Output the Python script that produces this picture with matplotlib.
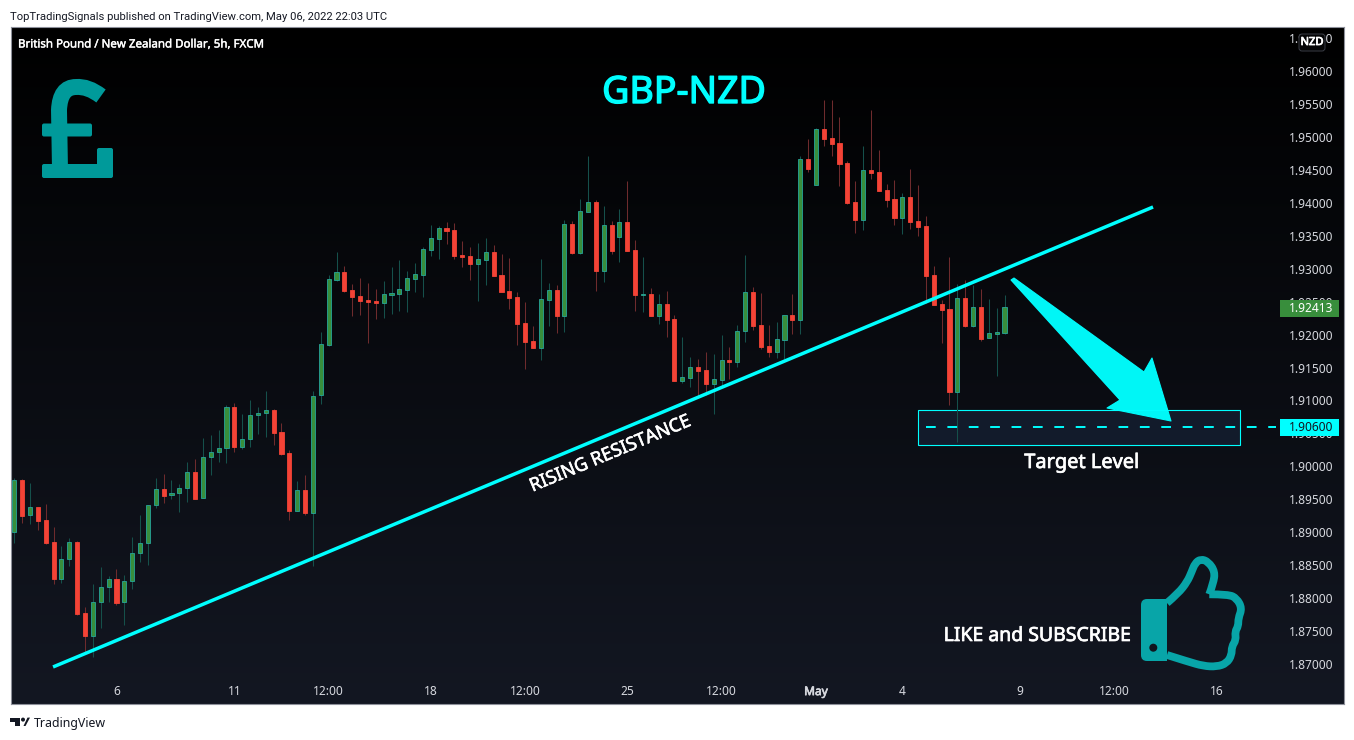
"""GBP/NZD 5h candlestick chart with trendline and target annotations."""

import matplotlib

matplotlib.use("Agg")
import matplotlib.patheffects as pe
import matplotlib.pyplot as plt
import numpy as np
from matplotlib.patches import Circle, FancyBboxPatch, PathPatch, Polygon, Rectangle
from matplotlib.path import Path
from matplotlib.transforms import Affine2D

bar_open = [
    1.88998, 1.89787, 1.89256, 1.89377, 1.89180, 1.88846, 1.88294, 1.88588, 1.88846, 1.87768,
    1.87429, 1.87935, 1.88163, 1.88284, 1.87935, 1.88254, 1.88679, 1.88831, 1.89407, 1.89650,
    1.89559, 1.89590, 1.89665, 1.89908, 1.89514, 1.90136, 1.90212, 1.90273, 1.90895, 1.90298,
    1.90409, 1.90774, 1.90804, 1.90850, 1.90516, 1.90197, 1.89326, 1.89635, 1.89296, 1.91077,
    1.91846, 1.92833, 1.92944, 1.92671, 1.92580, 1.92519, 1.92504, 1.92484, 1.92605, 1.92620,
    1.92681, 1.92848, 1.92909, 1.93288, 1.93455, 1.93612, 1.93582, 1.93202, 1.93187, 1.93076,
    1.93136, 1.93248, 1.92899, 1.92656, 1.92565, 1.92170, 1.91897, 1.91801, 1.92529, 1.92671,
    1.92286, 1.93673, 1.93243, 1.93865, 1.94007, 1.92969, 1.93658, 1.93486, 1.93703, 1.93278,
    1.92600, 1.92610, 1.92286, 1.92458, 1.92231, 1.91300, 1.91345, 1.91502, 1.91457, 1.91254,
    1.91315, 1.91608, 1.91588, 1.92059, 1.92641, 1.92140, 1.91821, 1.91740, 1.91922, 1.92291,
    1.92226, 1.94660, 1.94275, 1.95115, 1.94978, 1.94902, 1.94599, 1.94007, 1.93744, 1.94493,
    1.94462, 1.94189, 1.94052, 1.93774, 1.94083, 1.93718, 1.93642, 1.92899, 1.92458, 1.92382,
    1.91133, 1.92549, 1.92135, 1.92413, 1.91942, 1.92013, 1.92028,
]
bar_close = [
    1.89787, 1.89251, 1.89377, 1.89175, 1.88841, 1.88294, 1.88588, 1.88846, 1.87763, 1.87429,
    1.87935, 1.88163, 1.88284, 1.87930, 1.88254, 1.88679, 1.88831, 1.89407, 1.89650, 1.89554,
    1.89590, 1.89665, 1.89908, 1.89509, 1.90136, 1.90212, 1.90273, 1.90895, 1.90298, 1.90409,
    1.90774, 1.90804, 1.90850, 1.90511, 1.90192, 1.89326, 1.89635, 1.89296, 1.91072, 1.91851,
    1.92838, 1.92944, 1.92666, 1.92575, 1.92514, 1.92499, 1.92484, 1.92610, 1.92625, 1.92686,
    1.92853, 1.92914, 1.93293, 1.93460, 1.93612, 1.93577, 1.93197, 1.93182, 1.93076, 1.93142,
    1.93248, 1.92894, 1.92651, 1.92560, 1.92165, 1.91892, 1.91801, 1.92534, 1.92671, 1.92286,
    1.93673, 1.93243, 1.93870, 1.94007, 1.92969, 1.93658, 1.93273, 1.93703, 1.93273, 1.92605,
    1.92615, 1.92286, 1.92458, 1.92226, 1.91295, 1.91350, 1.91502, 1.91452, 1.91254, 1.91320,
    1.91608, 1.91588, 1.92059, 1.92641, 1.92135, 1.91816, 1.91740, 1.91927, 1.92291, 1.92226,
    1.94660, 1.94518, 1.95115, 1.94973, 1.94897, 1.94594, 1.93992, 1.93744, 1.94493, 1.94457,
    1.94184, 1.94047, 1.93774, 1.94083, 1.93713, 1.93637, 1.92894, 1.92453, 1.92377, 1.91133,
    1.92549, 1.92135, 1.92413, 1.91937, 1.92018, 1.92033, 1.92413,
]
bar_high = [
    1.89817, 1.89802, 1.89746, 1.89377, 1.89423, 1.89073, 1.88785, 1.88906, 1.88861, 1.87859,
    1.88208, 1.88466, 1.88330, 1.88436, 1.88345, 1.88922, 1.89256, 1.89407, 1.89817, 1.89878,
    1.89787, 1.89726, 1.90060, 1.90106, 1.90424, 1.90470, 1.90546, 1.90925, 1.90956, 1.90789,
    1.91006, 1.90895, 1.91143, 1.90865, 1.90652, 1.90242, 1.89772, 1.89863, 1.91138, 1.92033,
    1.92904, 1.93253, 1.93040, 1.92767, 1.92853, 1.92782, 1.92691, 1.92808, 1.93020, 1.93131,
    1.92959, 1.93081, 1.93324, 1.93658, 1.93642, 1.93703, 1.93688, 1.93415, 1.93324, 1.93384,
    1.93460, 1.93354, 1.93217, 1.93157, 1.92641, 1.92489, 1.92124, 1.93142, 1.92777, 1.92747,
    1.93734, 1.93718, 1.94052, 1.94710, 1.94037, 1.93946, 1.93718, 1.93901, 1.94330, 1.93430,
    1.93172, 1.92701, 1.92610, 1.92656, 1.92291, 1.91957, 1.91654, 1.91624, 1.91730, 1.91699,
    1.91988, 1.91806, 1.92140, 1.93202, 1.92716, 1.92625, 1.92140, 1.92185, 1.92291, 1.92610,
    1.94705, 1.94963, 1.95130, 1.95560, 1.95560, 1.95297, 1.94629, 1.94326, 1.94857, 1.95403,
    1.94796, 1.94280, 1.94341, 1.94143, 1.94508, 1.94265, 1.93794, 1.93035, 1.92519, 1.93172,
    1.92762, 1.92823, 1.92747, 1.92686, 1.92534, 1.92398, 1.92595,
]
bar_low = [
    1.88841, 1.89144, 1.89129, 1.89038, 1.88826, 1.88218, 1.88234, 1.88492, 1.87748, 1.87186,
    1.87110, 1.87550, 1.87945, 1.87900, 1.87596, 1.88142, 1.88552, 1.88507, 1.89372, 1.89448,
    1.89509, 1.89311, 1.89463, 1.89509, 1.89514, 1.89868, 1.90070, 1.90055, 1.90222, 1.90268,
    1.90298, 1.90495, 1.90450, 1.90328, 1.90177, 1.89190, 1.89326, 1.89266, 1.88492, 1.90945,
    1.91831, 1.92818, 1.92646, 1.92281, 1.92296, 1.91871, 1.92236, 1.92251, 1.92312, 1.92357,
    1.92342, 1.92646, 1.92570, 1.93192, 1.93147, 1.93374, 1.93152, 1.93025, 1.92828, 1.92509,
    1.92752, 1.92894, 1.92651, 1.92388, 1.91841, 1.91477, 1.91801, 1.91613, 1.92130, 1.92023,
    1.92038, 1.93222, 1.93228, 1.93865, 1.92661, 1.92797, 1.93228, 1.93101, 1.93273, 1.92362,
    1.92342, 1.92286, 1.92165, 1.91968, 1.91295, 1.91269, 1.91209, 1.91062, 1.91077, 1.90799,
    1.91209, 1.91330, 1.91512, 1.91892, 1.92074, 1.91785, 1.91664, 1.91649, 1.91624, 1.92013,
    1.92013, 1.94472, 1.94275, 1.94867, 1.94715, 1.94255, 1.93981, 1.93546, 1.93592, 1.94366,
    1.94184, 1.93941, 1.93668, 1.93531, 1.93607, 1.93501, 1.92474, 1.92453, 1.91877, 1.90935,
    1.90374, 1.92119, 1.92119, 1.91907, 1.91942, 1.91376, 1.92013,
]

price_ticks = [1.87, 1.875, 1.88, 1.885, 1.89, 1.895, 1.90, 1.905, 1.91, 1.915, 1.92,
               1.925, 1.93, 1.935, 1.94, 1.945, 1.95, 1.955, 1.96, 1.965]
date_ticks = [13, 28, 40, 53, 65, 78, 90, 102, 113, 128, 140, 153]
date_labels = ["6", "11", "12:00", "18", "12:00", "25", "12:00", "May", "4", "9", "12:00", "16"]

trend_x = [4.93, 144.9]
trend_y = [1.86955, 1.93936]
target_price = 1.906
target_zone_x = [115.0, 156.0]
target_zone_y = [1.90324, 1.90855]
target_line_x = [116.0, 160.5]
last_price = 1.92413

UP = "#388e3c"
UP_EDGE = "#26a69a"
UP_WICK = "#15504b"
DOWN = "#f44336"
DOWN_WICK = "#6e2b2d"
CYAN = "#00ffff"
AXIS_TEXT = "#d6d8de"
FONT = "Noto Sans"

W, H = 1354, 740
X_RANGE = (-0.42, 169.2)
Y_RANGE = (1.86393, 1.96668)


def heavy(width, colour="#ffffff"):
    # the installed font has one weight only, so thicken it with a stroke
    return [pe.withStroke(linewidth=width, foreground=colour)]


def smooth_path(points):
    # quadratic spline through the midpoints of a traced outline
    verts = [points[0]]
    codes = [Path.MOVETO]
    for a, b in zip(points[1:-1], points[2:]):
        verts += [a, ((a[0] + b[0]) / 2, (a[1] + b[1]) / 2)]
        codes += [Path.CURVE3, Path.CURVE3]
    verts[-1] = points[-1]
    return Path(verts, codes)


fig = plt.figure(figsize=(W / 100, H / 100), dpi=100, facecolor="white")
ax = fig.add_axes([11 / W, 1 - 704 / H, 1333 / W, 677 / H])

# pixel coordinates of the reference, y going down
px = Affine2D().scale(1, -1).translate(0, H)

bg = np.linspace(0, 1, 256).reshape(-1, 1, 1) * np.array([0x13, 0x17, 0x22]) / 255
ax.imshow(bg, extent=[X_RANGE[0], X_RANGE[1], Y_RANGE[0], Y_RANGE[1]], aspect="auto", zorder=0,
          interpolation="bilinear")
ax.set_xlim(*X_RANGE)
ax.set_ylim(*Y_RANGE)

bar_open = np.array(bar_open)
bar_close = np.array(bar_close)
bar_high = np.array(bar_high)
bar_low = np.array(bar_low)
xs = np.arange(len(bar_open))
rising = bar_close >= bar_open

ax.vlines(xs[rising], bar_low[rising], bar_high[rising], colors=UP_WICK, linewidth=0.75, zorder=2)
ax.vlines(xs[~rising], bar_low[~rising], bar_high[~rising], colors=DOWN_WICK, linewidth=0.75, zorder=2)
ax.bar(xs[rising], (bar_close - bar_open)[rising], bottom=bar_open[rising], width=0.52,
       facecolor=UP, edgecolor=UP_EDGE, linewidth=0.6, zorder=3)
ax.bar(xs[~rising], (bar_close - bar_open)[~rising], bottom=bar_open[~rising], width=0.52,
       facecolor=DOWN, edgecolor=DOWN, linewidth=0.6, zorder=3)

ax.yaxis.tick_right()
ax.set_yticks(price_ticks)
ax.set_yticklabels([f"{p:.5f}" for p in price_ticks], ha="right", fontfamily=FONT)
ax.tick_params(axis="y", length=0, pad=-7.9, labelsize=8.6, labelcolor=AXIS_TEXT)
ax.set_xticks(date_ticks)
ax.set_xticklabels(date_labels, fontfamily=FONT)
ax.tick_params(axis="x", length=0, pad=-13.6, labelsize=8.6, labelcolor=AXIS_TEXT)
ax.get_xticklabels()[7].set_path_effects(heavy(0.5, AXIS_TEXT))
for spine in ax.spines.values():
    spine.set_color("#8d909a")
    spine.set_linewidth(0.8)

# trendline and target zone
ax.plot(trend_x, trend_y, color=CYAN, linewidth=2.5, solid_capstyle="butt", zorder=4)
ax.add_patch(Rectangle((target_zone_x[0], target_zone_y[0]), target_zone_x[1] - target_zone_x[0],
                       target_zone_y[1] - target_zone_y[0], facecolor="#121b2b", edgecolor=CYAN,
                       linewidth=0.8, zorder=1))
ax.plot(target_line_x, [target_price, target_price], color=CYAN, linewidth=1.4,
        dashes=(5, 6), dash_capstyle="butt", zorder=4)

# big arrow down to the target
arrow_pts = [(1011, 280), (1014, 278), (1144, 372), (1152, 358), (1171, 421), (1107, 408), (1120, 400)]
ax.add_patch(Polygon(arrow_pts, closed=True, transform=px, facecolor=CYAN, edgecolor=CYAN,
                     linewidth=0.8, joinstyle="round", alpha=0.97, zorder=5))

# price tags
for y0, colour, text_colour, label in [(300, UP, "#ffffff", f"{last_price:.5f}"),
                                       (419, CYAN, "#131722", f"{target_price:.5f}")]:
    ax.add_patch(Rectangle((1280, y0), 59, 17, transform=px, facecolor=colour, edgecolor="none",
                           zorder=6, clip_on=False))
    ax.text(1333, y0 + 8.5, label, transform=px, ha="right", va="center", fontsize=8.6, color=text_colour,
            fontfamily=FONT, zorder=7)

# currency badge
ax.add_patch(FancyBboxPatch((1301, 36), 22, 13, transform=px, boxstyle="round,pad=2,rounding_size=3",
                            facecolor="#050506", edgecolor="#3a3d46", linewidth=0.7, zorder=6))
ax.text(1312, 42.5, "NZD", transform=px, ha="center", va="center", fontsize=8, color="#ffffff",
        fontfamily=FONT, zorder=7, path_effects=heavy(0.6))

# pound logo
TEAL = "#009a9a"
pound = Path([(101, 96), (88, 86), (76, 87), (60, 87), (59, 110), (60, 170)],
             [Path.MOVETO, Path.CURVE3, Path.CURVE3, Path.CURVE3, Path.CURVE3, Path.LINETO])
ax.add_patch(PathPatch(pound, transform=px, facecolor="none", edgecolor=TEAL, linewidth=11.5,
                       capstyle="butt", zorder=4))
for x0, y0, w, h in [(42, 123.5, 50, 13), (42, 164, 71, 14), (97, 148, 16, 28)]:
    ax.add_patch(FancyBboxPatch((x0 + 1.5, y0 + 1.5), w - 3, h - 3, transform=px,
                                boxstyle="round,pad=1.5,rounding_size=2", facecolor=TEAL,
                                edgecolor="none", zorder=4))

# thumbs up
THUMB = "#08a5a8"
ax.add_patch(FancyBboxPatch((1144, 602), 20, 56, transform=px, boxstyle="round,pad=3,rounding_size=6",
                            facecolor=THUMB, edgecolor="none", zorder=4))
ax.add_patch(Rectangle((1155, 599), 12, 62, transform=px, facecolor=THUMB, edgecolor="none", zorder=4))
ax.add_patch(Circle((1153.3, 647.7), 4, transform=px, facecolor="#11151e", edgecolor="none", zorder=5))
thumb_top = [(1167, 603), (1178.3, 593.3), (1187.3, 581.7), (1191.7, 571.7), (1195, 563.3), (1200.7, 559),
             (1208.3, 561.7), (1215, 571.7), (1213.3, 583.3), (1209.3, 594.3)]
hand_side = [(1209.3, 594.3), (1228.3, 594.3), (1236.7, 598.3), (1242, 608.3), (1238.3, 618.3), (1238.3, 626),
             (1235, 631.7), (1236, 640), (1231.7, 646.7), (1231.7, 655), (1226.7, 663.3), (1216.7, 666.7),
             (1203.3, 666), (1188.3, 661.7), (1167, 655)]
for outline in (thumb_top, hand_side):
    ax.add_patch(PathPatch(smooth_path(outline), transform=px, facecolor="none", edgecolor=THUMB,
                           linewidth=5.6, capstyle="butt", joinstyle="round", zorder=4))

# chart texts
ax.text(684, 93, "GBP-NZD", transform=px, ha="center", va="center", fontsize=27, color=CYAN,
        fontfamily=FONT, zorder=7, path_effects=heavy(1.0, CYAN))
ax.text(610, 454, "RISING RESISTANCE", transform=px, ha="center", va="center", rotation=22.7,
        rotation_mode="anchor", fontsize=13.3, color="#ffffff", fontfamily=FONT, zorder=7,
        path_effects=heavy(0.4))
ax.text(1082, 463, "Target Level", transform=px, ha="center", va="center", fontsize=14.4, color="#ffffff",
        fontfamily=FONT, zorder=7, path_effects=heavy(0.5))
ax.text(1037, 636, "LIKE and SUBSCRIBE", transform=px, ha="center", va="center", fontsize=14, color="#ffffff",
        fontfamily=FONT, zorder=7, path_effects=heavy(0.5))
ax.text(18, 45, "British Pound / New Zealand Dollar, 5h, FXCM", transform=px, ha="left", va="center",
        fontsize=8.3, color="#ffffff", fontfamily=FONT, zorder=7, path_effects=heavy(0.3))

# frame texts
fig.text(10 / W, 1 - 17 / H, "TopTradingSignals published on TradingView.com, May 06, 2022 22:03 UTC",
         ha="left", va="center", fontsize=8.1, color="#131722", fontfamily="Roboto")
fig.text(34 / W, 1 - 723 / H, "TradingView", ha="left", va="center", fontsize=8.9, color="#131722",
         fontfamily=FONT)

# TradingView mark
logo_t = [(10, 717.6), (20, 717.6), (20, 726), (15, 726), (15, 721.5), (10, 721.5)]
logo_v = [(23.5, 726), (27.5, 717.6), (30, 717.6), (25.5, 726)]
fig.patches.append(Polygon(logo_t, closed=True, transform=px, facecolor="#131722", edgecolor="none"))
fig.patches.append(Polygon(logo_v, closed=True, transform=px, facecolor="#131722", edgecolor="none"))
fig.patches.append(Circle((23, 719.6), 2, transform=px, facecolor="#131722", edgecolor="none"))

fig.savefig("out.png", dpi=100)
plt.close(fig)
